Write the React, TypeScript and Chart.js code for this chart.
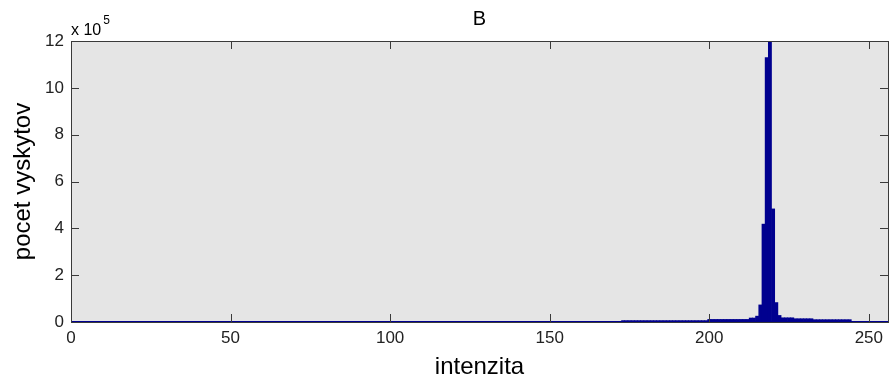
import React, { useEffect, useRef } from 'react';
import { Chart, registerables } from 'chart.js';

Chart.register(...registerables);

const chartTitle = 'B';
const xLabel = 'intenzita';
const yLabel = 'pocet vyskytov';
const yExponentText = 'x 10';
const yExponent = '5';
const yScaleFactor = 100000;
const xMin = 0;
const xMax = 256;
const yMin = 0;
const yMax = 1200000;
const xTickValues = [0, 50, 100, 150, 200, 250];
const yTickStep = 200000;

// histogram counts for intensity bins 173..255 (bins below 173 are empty)
const firstBin = 173;
const binCounts = [
  // 173-199
  6000, 6000, 6000, 6000, 6000, 6000, 6000, 6000, 6000, 6000,
  6000, 6000, 6000, 6000, 6000, 6000, 6000, 6000, 6000, 6000,
  6000, 6000, 6000, 6000, 6000, 6000, 6000,
  // 200-212
  11000, 11000, 11000, 11000, 11000, 11000, 11000, 11000, 11000, 11000,
  11000, 11000, 11000,
  // 213-222
  17000, 17000, 25000, 73000, 418000, 1129000, 1250000, 483000, 83000, 28000,
  // 223-232
  18000, 18000, 18000, 18000, 14000, 14000, 14000, 14000, 14000, 14000,
  // 233-244
  10000, 10000, 10000, 10000, 10000, 10000, 10000, 10000, 10000, 10000,
  10000, 10000,
  // 245-255
  1500, 1500, 1500, 1500, 1500, 1500, 1500, 1500, 1500, 1500, 1500,
];

const barColor = '#00008F';
const plotBg = '#e5e5e5';
const frameColor = '#3a3a3a';
const fontFamily = "'Liberation Sans', Arial, Helvetica, sans-serif";

const matlabFrame = {
  id: 'matlabFrame',
  beforeDatasetsDraw(chart: any) {
    const { ctx, chartArea: a } = chart;
    ctx.save();
    ctx.fillStyle = plotBg;
    ctx.fillRect(a.left, a.top, a.right - a.left, a.bottom - a.top);
    ctx.restore();
  },
  afterDatasetsDraw(chart: any) {
    const { ctx, chartArea: a, scales } = chart;
    const tl = 8;
    ctx.save();
    ctx.strokeStyle = frameColor;
    ctx.lineWidth = 1;
    ctx.beginPath();
    scales.x.ticks.forEach((t: any) => {
      const px = Math.round(scales.x.getPixelForValue(t.value)) + 0.5;
      ctx.moveTo(px, a.bottom);
      ctx.lineTo(px, a.bottom - tl);
      ctx.moveTo(px, a.top);
      ctx.lineTo(px, a.top + tl);
    });
    scales.y.ticks.forEach((t: any) => {
      const py = Math.round(scales.y.getPixelForValue(t.value)) + 0.5;
      ctx.moveTo(a.left, py);
      ctx.lineTo(a.left + tl, py);
      ctx.moveTo(a.right, py);
      ctx.lineTo(a.right - tl, py);
    });
    ctx.stroke();
    ctx.strokeRect(Math.round(a.left) + 0.5, Math.round(a.top) + 0.5, Math.round(a.right - a.left), Math.round(a.bottom - a.top));

    ctx.fillStyle = '#000';
    ctx.textAlign = 'center';
    ctx.textBaseline = 'alphabetic';
    ctx.font = `20px ${fontFamily}`;
    ctx.fillText(chartTitle, (a.left + a.right) / 2, 25);

    ctx.textAlign = 'left';
    ctx.font = `16px ${fontFamily}`;
    ctx.fillText(yExponentText, a.left, 35);
    const w = ctx.measureText(yExponentText).width;
    ctx.font = `12px ${fontFamily}`;
    ctx.fillText(yExponent, a.left + w + 2, 24);
    ctx.restore();
  },
};

export default function App() {
  const ref = useRef<HTMLCanvasElement | null>(null);

  useEffect(() => {
    if (!ref.current) return;
    const barData = binCounts.map((c, i) => ({ x: firstBin + i, y: c }));
    const baseline = [
      { x: xMin, y: 0 },
      { x: xMax, y: 0 },
    ];
    const chart = new Chart(ref.current, {
      type: 'bar',
      data: {
        datasets: [
          {
            type: 'line',
            data: baseline,
            borderColor: barColor,
            borderWidth: 2,
            pointRadius: 0,
            order: 2,
          } as any,
          {
            type: 'bar',
            data: barData,
            backgroundColor: barColor,
            borderWidth: 0,
            barPercentage: 1,
            categoryPercentage: 1,
            order: 1,
          } as any,
        ],
      },
      options: {
        responsive: false,
        animation: false,
        layout: { padding: { top: 41, right: 3, left: 0, bottom: 0 } },
        plugins: {
          legend: { display: false },
          tooltip: { enabled: false },
          title: { display: false },
        },
        scales: {
          x: {
            type: 'linear',
            min: xMin,
            max: xMax,
            offset: false,
            grid: { display: false, drawTicks: false },
            border: { display: false },
            ticks: {
              padding: 6,
              color: '#222',
              font: { family: fontFamily, size: 17 },
              maxRotation: 0,
              autoSkip: false,
            },
            afterBuildTicks: (s: any) => {
              s.ticks = xTickValues.map((v) => ({ value: v }));
            },
            title: {
              display: true,
              text: xLabel,
              color: '#000',
              font: { family: fontFamily, size: 24 },
              padding: { top: 0, bottom: -3 },
            },
            afterFit: (s: any) => {
              s.height = 57;
            },
          },
          y: {
            min: yMin,
            max: yMax,
            grid: { display: false, drawTicks: false },
            border: { display: false },
            ticks: {
              stepSize: yTickStep,
              padding: 7,
              color: '#222',
              font: { family: fontFamily, size: 17 },
              callback: (v: any) => String(Number(v) / yScaleFactor),
            },
            title: {
              display: true,
              text: yLabel,
              color: '#000',
              font: { family: fontFamily, size: 24 },
              padding: { top: 9, bottom: 0 },
            },
            afterFit: (s: any) => {
              s.width = 71;
            },
          },
        },
      },
      plugins: [matlabFrame],
    });
    return () => chart.destroy();
  }, []);

  return (
    <div style={{ position: 'absolute', left: 0, top: 0, width: 891, height: 379, background: '#fff' }}>
      <canvas ref={ref} width={891} height={379} style={{ display: 'block' }} />
    </div>
  );
}
